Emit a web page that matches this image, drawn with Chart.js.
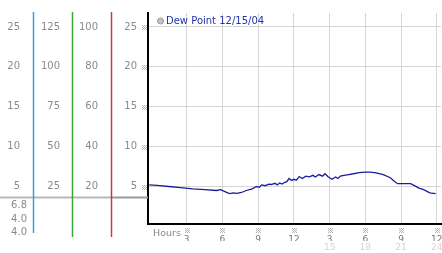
<!DOCTYPE html>
<html>
<head>
<meta charset="utf-8">
<script src="https://cdn.jsdelivr.net/npm/chart.js@4.4.1/dist/chart.umd.min.js"></script>
<style>
  html, body { margin: 0; padding: 0; background: #fff; }
  canvas { display: block; }
</style>
</head>
<body>
<canvas id="chart" width="442" height="253"></canvas>
<script>
// Dew point readings, hour of day vs degrees
const hours = [-0.15, 0.5, 1.5, 2.5, 3.5, 4.5, 5.5, 5.85, 6.3, 6.6, 6.9, 7.2, 7.6, 8.0, 8.5, 8.85,
  9.1, 9.3, 9.6, 9.9, 10.1, 10.4, 10.6, 10.8, 11.0, 11.2, 11.4, 11.6, 11.8, 12.0, 12.2, 12.45,
  12.7, 13.0, 13.3, 13.6, 13.8, 14.1, 14.4, 14.6, 14.9, 15.2, 15.5, 15.7, 15.9, 16.2, 16.6,
  17.0, 17.5, 18.0, 18.4, 18.9, 19.5, 20.1, 20.4, 20.7, 21.0, 21.8, 22.2, 22.5, 22.9, 23.4, 23.9];
const dewPoint = [5.2, 5.15, 5.0, 4.85, 4.7, 4.6, 4.5, 4.6, 4.3, 4.1, 4.2, 4.15, 4.25, 4.5, 4.7, 5.0,
  4.9, 5.2, 5.1, 5.3, 5.25, 5.4, 5.2, 5.45, 5.3, 5.5, 5.6, 6.0, 5.75, 5.9, 5.8, 6.25,
  6.0, 6.3, 6.2, 6.4, 6.2, 6.5, 6.3, 6.6, 6.2, 5.9, 6.2, 6.0, 6.3, 6.4, 6.5,
  6.6, 6.75, 6.8, 6.8, 6.7, 6.5, 6.1, 5.7, 5.35, 5.35, 5.35, 5.05, 4.8, 4.6, 4.2, 4.1];

// tick values and labels
const hourTicks = [3, 6, 9, 12, 15, 18, 21, 24];
const hourLabels = ["3", "6", "9", "12", "3", "6", "9", "12"];
const hourLabels24 = ["", "", "", "", "15", "18", "21", "24"];
const degTicks = [5, 10, 15, 20, 25];
const col1Labels = ["5", "10", "15", "20", "25"];
const col2Ticks = [25, 50, 75, 100, 125];
const col3Ticks = [20, 40, 60, 80, 100];
const statLabels = ["6.8", "4.0", "4.0"]; // max, min, last

const font = { family: "DejaVu Sans", size: 10 };
const smallFont = { family: "DejaVu Sans", size: 9 };
const gridColor = "#d6d6d6";

function fixedTicks(list) {
  return s => { s.ticks = list.map(v => ({ value: v })); };
}

function leftAxis(weight, min, max, ticks, labels, width, pad) {
  return {
    position: "left",
    weight: weight,
    min: min,
    max: max,
    afterBuildTicks: fixedTicks(ticks),
    afterFit: s => { s.width = width; s.paddingTop = 0; s.paddingBottom = 0; },
    ticks: { callback: (v, i) => labels[i], color: "#8a8a8a", font: font, padding: pad, crossAlign: "near" },
    grid: { display: false, drawTicks: false },
    border: { display: false }
  };
}

// extra bits: left panel lines, legend title, tick marks
const extras = {
  id: "extras",
  afterDraw(chart) {
    const ctx = chart.ctx;
    const area = chart.chartArea;
    const sy = chart.scales.y;
    const sx = chart.scales.x;

    // small hatched tick glyph
    function glyph(cx, cy) {
      ctx.fillStyle = "#b4b4b4";
      [[-2, -2], [0, -2], [2, -2], [-1, -1], [1, -1], [-2, 0], [0, 0], [2, 0], [-1, 1], [1, 1], [-2, 2], [0, 2], [2, 2]]
        .forEach(p => ctx.fillRect(Math.round(cx) + p[0], Math.round(cy) + p[1], 1, 1));
    }

    ctx.save();
    // gray separator across left panel
    const gy = Math.round(sy.getPixelForValue(3.7)) + 0.5;
    ctx.lineWidth = 2;
    ctx.strokeStyle = "#b8b8b8";
    ctx.beginPath(); ctx.moveTo(0, gy); ctx.lineTo(chart.scales.y3.right, gy); ctx.stroke();
    ctx.strokeStyle = "#9a9a9a";
    ctx.beginPath(); ctx.moveTo(chart.scales.y3.right, gy); ctx.lineTo(area.left, gy); ctx.stroke();

    // coloured axis rules
    ctx.lineWidth = 1.5;
    [["y1", "#3a9fd0", 233], ["y2", "#3aa63a", 237], ["y3", "#c83a3a", 237]].forEach(a => {
      const x = Math.round(chart.scales[a[0]].right) + 0.5;
      ctx.strokeStyle = a[1];
      ctx.beginPath(); ctx.moveTo(x, area.top - 1); ctx.lineTo(x, a[2]); ctx.stroke();
    });

    // stats under the separator
    ctx.fillStyle = "#8a8a8a";
    ctx.font = "10px 'DejaVu Sans'";
    ctx.textAlign = "right";
    ctx.textBaseline = "middle";
    statLabels.forEach((t, i) => ctx.fillText(t, 27, 205.5 + i * 13.5));

    // tick glyphs
    degTicks.forEach(v => glyph(area.left - 4, sy.getPixelForValue(v)));
    hourTicks.forEach(v => glyph(sx.getPixelForValue(v), area.bottom + 6));

    // Hours caption
    ctx.textAlign = "left";
    ctx.textBaseline = "top";
    ctx.fillStyle = "#888";
    ctx.font = "9.5px 'DejaVu Sans'";
    ctx.fillText("Hours", area.left + 5, area.bottom + 5);

    // legend
    ctx.beginPath();
    ctx.arc(area.left + 12.5, 21, 3, 0, Math.PI * 2);
    ctx.fillStyle = "#c4c4c4";
    ctx.fill();
    ctx.strokeStyle = "#9a9a9a";
    ctx.lineWidth = 1;
    ctx.stroke();
    ctx.fillStyle = "#2233aa";
    ctx.font = "10px 'DejaVu Sans'";
    ctx.textBaseline = "middle";
    ctx.fillText("Dew Point 12/15/04", area.left + 18, 21);
    ctx.restore();
  }
};

new Chart(document.getElementById("chart"), {
  type: "line",
  data: {
    datasets: [{
      data: hours.map((h, i) => ({ x: h, y: dewPoint[i] })),
      borderColor: "#1c1c9c",
      borderWidth: 1.3,
      pointRadius: 0,
      tension: 0,
      xAxisID: "x",
      yAxisID: "y"
    }]
  },
  options: {
    responsive: false,
    animation: false,
    devicePixelRatio: 1,
    layout: { padding: { top: 13, right: 1, bottom: 0, left: 0 } },
    plugins: { legend: { display: false }, tooltip: { enabled: false } },
    scales: {
      x: {
        type: "linear",
        position: "bottom",
        weight: 0,
        min: -0.25,
        max: 24.35,
        afterBuildTicks: fixedTicks(hourTicks),
        afterFit: s => { s.height = 17; s.paddingLeft = 0; s.paddingRight = 0; },
        ticks: { callback: (v, i) => hourLabels[i], color: "#777", font: smallFont, padding: 10, autoSkip: false, maxRotation: 0 },
        grid: { color: gridColor, drawTicks: false },
        border: { color: "#000", width: 2 }
      },
      x2: {
        type: "linear",
        position: "bottom",
        weight: 1,
        min: -0.25,
        max: 24.35,
        afterBuildTicks: fixedTicks(hourTicks),
        afterFit: s => { s.height = 12; s.paddingLeft = 0; s.paddingRight = 0; },
        ticks: { callback: (v, i) => hourLabels24[i], color: "#d4d4d4", font: smallFont, padding: 1, autoSkip: false, maxRotation: 0 },
        grid: { display: false, drawTicks: false },
        border: { display: false }
      },
      y: {
        position: "left",
        weight: 0,
        min: 0.3,
        max: 26.75,
        afterBuildTicks: fixedTicks(degTicks),
        afterFit: s => { s.width = 37; s.paddingTop = 0; s.paddingBottom = 0; },
        ticks: { color: "#8a8a8a", font: font, padding: 11, crossAlign: "near" },
        grid: { color: gridColor, drawTicks: false },
        border: { color: "#000", width: 2 }
      },
      y3: leftAxis(1, 1.2, 107, col3Ticks, col3Ticks.map(String), 39, 13),
      y2: leftAxis(2, 1.5, 133.75, col2Ticks, col2Ticks.map(String), 39, 12),
      y1: leftAxis(3, 0.3, 26.75, degTicks, col1Labels, 33, 13)
    }
  },
  plugins: [extras]
});
</script>
</body>
</html>
